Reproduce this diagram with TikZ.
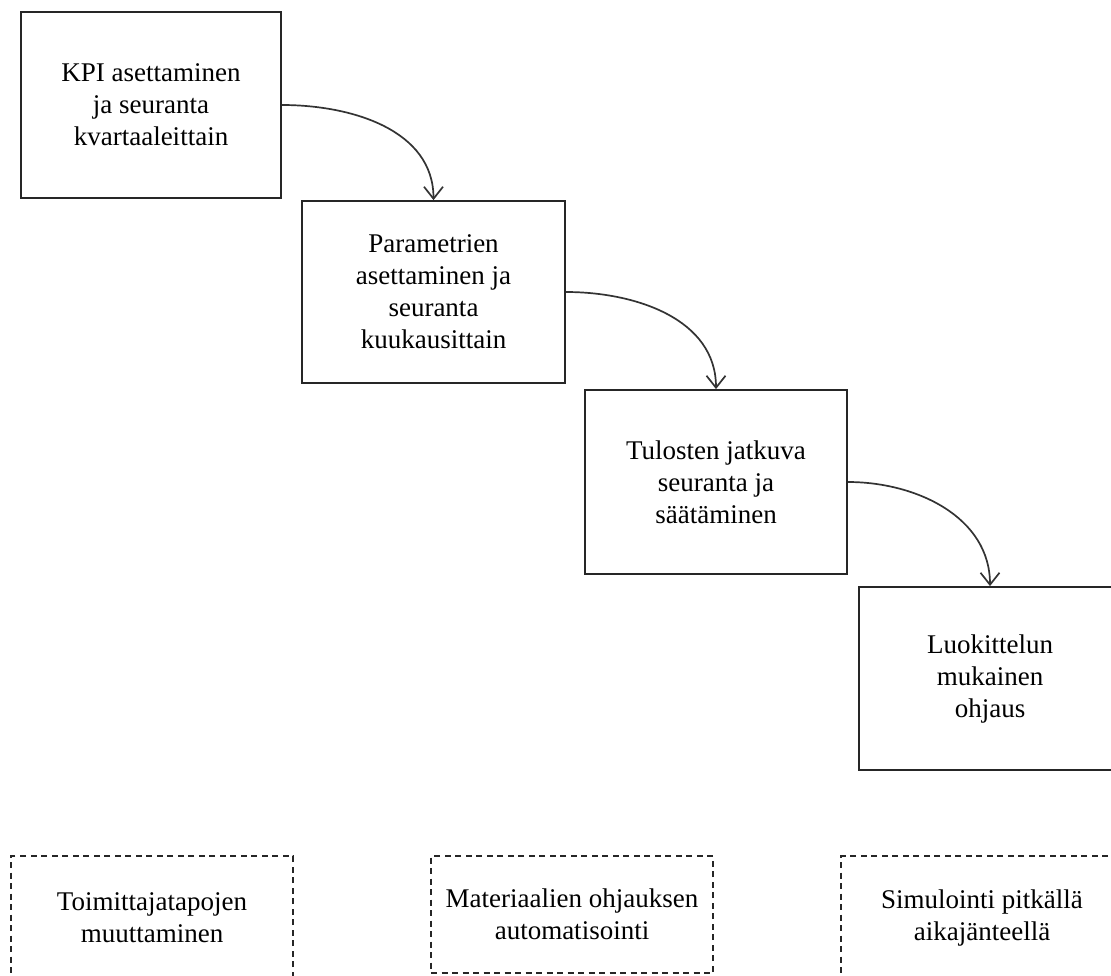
\documentclass[tikz,border=0pt]{standalone}
\usepackage{fontspec}
\setmainfont{Liberation Serif}
\usetikzlibrary{arrows.meta}
\begin{document}
\begin{tikzpicture}[x=1pt,y=-1pt,
  stage/.style={draw=black!85, line width=1.8pt, rectangle, inner sep=0pt,
    align=center, font=\fontsize{27}{32}\selectfont},
  idea/.style={draw=black!85, line width=1.8pt, dash pattern=on 6pt off 4.5pt,
    rectangle, inner sep=0pt, align=center, font=\fontsize{27}{32}\selectfont},
  flow/.style={draw=black!80, line width=1.7pt,
    -{Straight Barb[length=12pt,width=19pt,line width=1.7pt]},
    out=0, in=90}]
\useasboundingbox (0,0) rectangle (1111,975);
\clip (0,0) rectangle (1111,975);

% cascade of control levels
\node[stage, minimum width=260pt, minimum height=186pt] (kpi) at (151,105)
  {KPI asettaminen\\ja seuranta\\kvartaaleittain};
\node[stage, minimum width=263pt, minimum height=182pt] (param) at (433.5,292)
  {Parametrien\\asettaminen ja\\seuranta\\kuukausittain};
\node[stage, minimum width=262pt, minimum height=184pt] (tulos) at (716,482)
  {Tulosten jatkuva\\seuranta ja\\säätäminen};
\node[stage, minimum width=262pt, minimum height=183pt] (luok) at (990,678.5)
  {Luokittelun\\mukainen\\ohjaus};

\draw[flow] (kpi.east) to (param.north);
\draw[flow] (param.east) to (tulos.north);
\draw[flow] (tulos.east) to (luok.north);

% further development ideas
\node[idea, minimum width=282pt, minimum height=123pt] (toim) at (152,917.5)
  {Toimittajatapojen\\muuttaminen};
\node[idea, minimum width=282pt, minimum height=117pt] (mat) at (572,914.5)
  {Materiaalien ohjauksen\\automatisointi};
\node[idea, minimum width=282pt, minimum height=123pt] (sim) at (982,917.5)
  {Simulointi pitkällä\\aikajänteellä};
\end{tikzpicture}
\end{document}
